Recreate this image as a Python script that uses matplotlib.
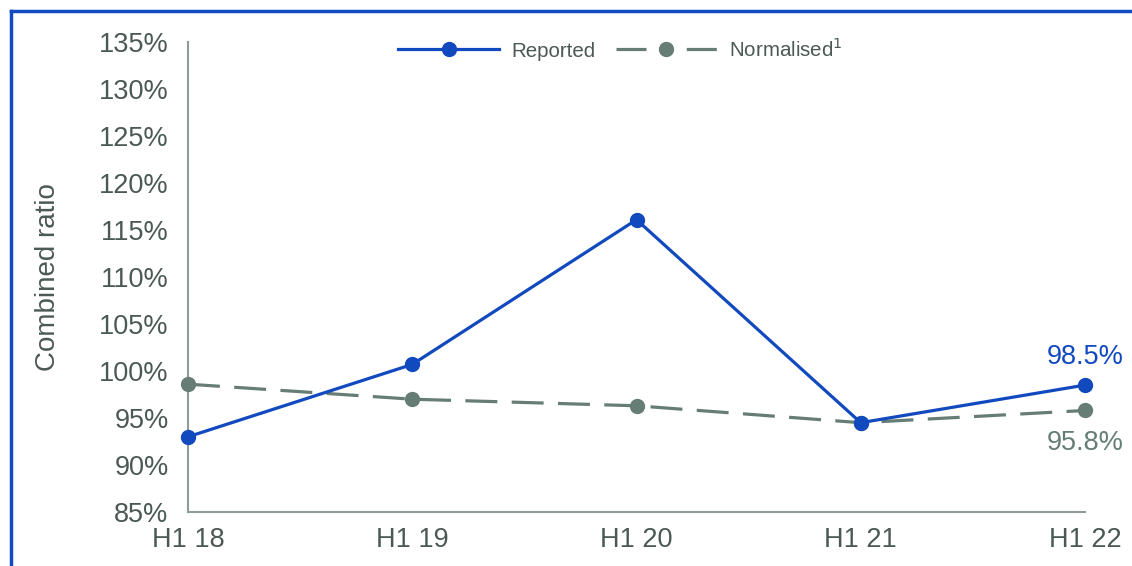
import numpy as np
import matplotlib
matplotlib.use("Agg")
import matplotlib.pyplot as plt
from matplotlib.lines import Line2D

# Dados
periodos = ["H1 18", "H1 19", "H1 20", "H1 21", "H1 22"]
reportado = [93.0, 100.7, 116.1, 94.5, 98.5]
normalizado = [98.6, 97.0, 96.3, 94.5, 95.8]
rotulo_reportado = "98.5%"
rotulo_normalizado = "95.8%"

AZUL = "#1149be"
CINZA = "#667d76"
EIXO = "#8c9c96"
TEXTO = "#4b5954"

plt.rcParams["font.family"] = ["Liberation Sans", "DejaVu Sans"]

fig = plt.figure(figsize=(11.32, 5.66), dpi=100)
ax = fig.add_axes([188 / 1132, 1 - 512 / 566, (1085 - 188) / 1132, (512 - 42) / 566])

x = np.arange(len(periodos))
ax.plot(x, reportado, color=AZUL, lw=2.3, marker="o", ms=10, clip_on=False,
        zorder=4, label="Reported")
ax.plot(x, normalizado, color=CINZA, lw=2.3, marker="o", ms=10, clip_on=False,
        dashes=(10, 4.5), zorder=3, label="Normalised$^1$")

ax.set_xlim(0, 4)
ax.set_ylim(85, 135)
ax.set_yticks(np.arange(85, 136, 5))
ax.set_yticklabels([f"{v}%" for v in range(85, 136, 5)])
ax.set_xticks(x)
ax.set_xticklabels(periodos)
ax.tick_params(length=0, labelsize=19.5, labelcolor=TEXTO)
ax.tick_params(axis="y", pad=14)
ax.tick_params(axis="x", pad=11)

for lado in ["top", "right"]:
    ax.spines[lado].set_visible(False)
for lado in ["left", "bottom"]:
    ax.spines[lado].set_color(EIXO)
    ax.spines[lado].set_linewidth(1.5)

ax.set_ylabel("Combined ratio", fontsize=20, color=TEXTO, labelpad=27)

# Rótulos do último ponto
ax.annotate(rotulo_reportado, (x[-1], reportado[-1]), xytext=(0, 11),
            textcoords="offset points", ha="center", va="bottom",
            fontsize=19.5, color=AZUL)
ax.annotate(rotulo_normalizado, (x[-1], normalizado[-1]), xytext=(0, -14),
            textcoords="offset points", ha="center", va="top",
            fontsize=19.5, color=CINZA)

leg = ax.legend(loc="upper center", bbox_to_anchor=(0.482, 1.05), ncol=2,
                frameon=False, fontsize=14.8, handlelength=4.9,
                columnspacing=1.0, handletextpad=0.6, labelcolor=TEXTO)
# traço - marcador - traço na legenda tracejada
leg.get_lines()[1].set_dashes((9.4, 12.6))

# Moldura azul superior e esquerda
fig.add_artist(Line2D([11 / 1132, 11 / 1132], [0, 1 - 11 / 566],
                      transform=fig.transFigure, color=AZUL, lw=2.5))
fig.add_artist(Line2D([11 / 1132, 1], [1 - 11 / 566, 1 - 11 / 566],
                      transform=fig.transFigure, color=AZUL, lw=2.5))

fig.savefig("out.png", dpi=100)
